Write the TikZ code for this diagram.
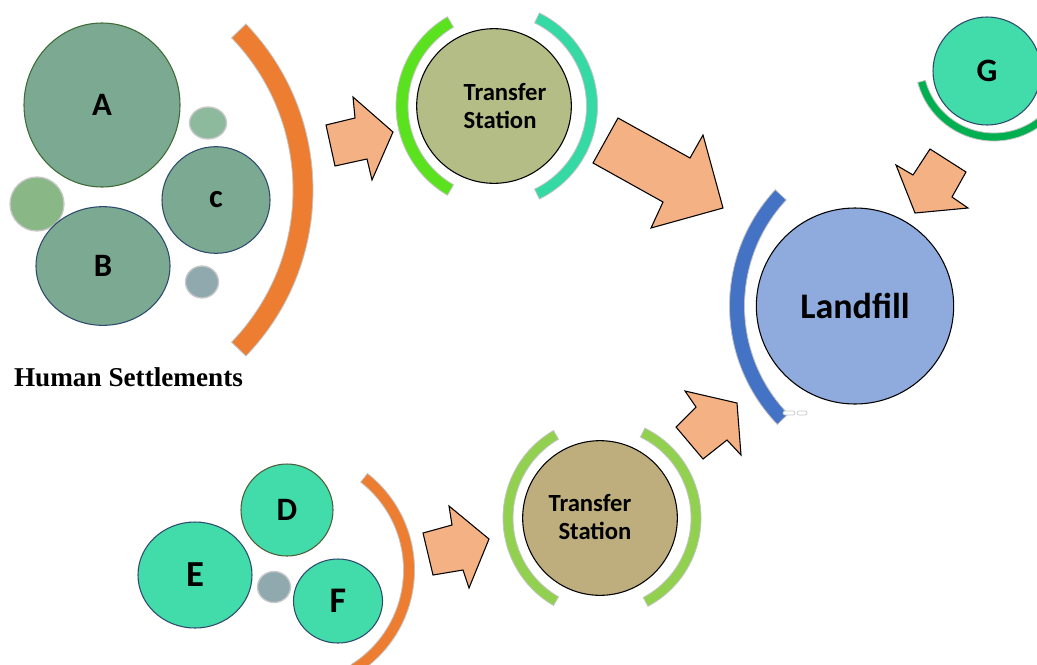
\documentclass[tikz,border=0pt]{standalone}
\usepackage{fontspec}
\setmainfont{Carlito}
\newfontfamily\serifb{Liberation Serif}
\usetikzlibrary{shapes.geometric}
\definecolor{setgreen}{HTML}{7BA992}
\definecolor{edgeA}{HTML}{3F6B35}
\definecolor{edgeB}{HTML}{2E4B6E}
\definecolor{dotone}{HTML}{8DBA9C}
\definecolor{dottwo}{HTML}{89B886}
\definecolor{dotgray}{HTML}{8FA9AF}
\definecolor{dotedge}{HTML}{C8C8C8}
\definecolor{tealfill}{HTML}{42DBAA}
\definecolor{edgeD}{HTML}{4E5E3A}
\definecolor{tsone}{HTML}{B5BD86}
\definecolor{tstwo}{HTML}{BFAE7D}
\definecolor{landfillc}{HTML}{8FAADC}
\definecolor{orangearc}{HTML}{ED7D31}
\definecolor{brightgreen}{HTML}{5BE21E}
\definecolor{tealarc}{HTML}{35D9A3}
\definecolor{greenarc}{HTML}{92D050}
\definecolor{bluearc}{HTML}{4472C4}
\definecolor{garc}{HTML}{00B050}
\definecolor{arrowfill}{HTML}{F4B183}
\definecolor{arcedge}{HTML}{C4C4C4}
\newcommand{\ringarc}[7]{%
  \pgfmathsetmacro{\arcRo}{#3+#4/2}\pgfmathsetmacro{\arcRi}{#3-#4/2}%
  \draw[fill=#7, draw=arcedge, line width=0.6pt]
    ([shift={(#1,#2)}]#5:\arcRo) arc[start angle=#5, end angle=#6, radius=\arcRo]
    -- ([shift={(#1,#2)}]#6:\arcRi) arc[start angle=#6, end angle=#5, radius=\arcRi] -- cycle;}
\tikzset{
  blob/.style={ellipse, inner sep=0pt, line width=0.8pt, font=\bfseries\fontsize{24.5}{25}\selectfont},
  dot/.style={ellipse, inner sep=0pt, draw=dotedge, line width=1pt},
  arrowblk/.style={fill=arrowfill, draw=black, line width=0.8pt, line join=miter},
  tstext/.style={font=\bfseries\fontsize{18.5}{21}\selectfont, inner sep=0pt},
}
\begin{document}
\begin{tikzpicture}[x=0.75pt, y=0.75pt]
\useasboundingbox (0,0) rectangle (1037,-664);
\clip (0,0) rectangle (1037,-664);
% arcs
\ringarc{74}{-190}{229}{20}{-44}{44}{orangearc}
\ringarc{499}{-106}{97}{12}{120}{240}{brightgreen}
\ringarc{494}{-106}{98}{11}{-64}{64}{tealarc}
\ringarc{900}{-306}{163}{15}{137}{224}{bluearc}
\ringarc{994}{-62}{75}{8}{195}{325}{garc}
\ringarc{292}{-570}{117}{11}{-58}{52}{orangearc}
\ringarc{604}{-518}{96}{10}{120}{240}{greenarc}
\ringarc{601}{-518}{95}{10}{-62}{64}{greenarc}
% tiny handles
\draw[draw=dotedge, fill=white, line width=0.5pt, rounded corners=1.5pt] (783,-411) rectangle (795,-415);
\draw[draw=dotedge, fill=white, line width=0.5pt, rounded corners=1.5pt] (797,-411) rectangle (807,-415);
% settlements 1
\node[blob, draw=edgeA, fill=setgreen, minimum width=117pt, minimum height=123pt] (A) at (102,-105) {A};
\node[dot, fill=dotone, minimum width=27.75pt, minimum height=24pt] (s1) at (208,-123) {};
\node[blob, draw=edgeB, fill=setgreen, minimum width=81pt, minimum height=80pt] (C) at (216,-200) {c};
\node[dot, fill=dottwo, minimum width=40.5pt, minimum height=40.5pt] (s2) at (37,-204) {};
\node[blob, draw=edgeB, fill=setgreen, minimum width=100.5pt, minimum height=89pt] (B) at (103,-266) {B};
\node[dot, fill=dotgray, minimum width=24.75pt, minimum height=24pt] (s3) at (202,-282) {};
\node[font=\serifb\bfseries\fontsize{20.4}{21}\selectfont, inner sep=0pt] (hs) at (128.5,-377) {Human Settlements};
% transfer stations
\node[ellipse, draw=black, line width=0.8pt, fill=tsone, minimum width=116pt, minimum height=116pt, inner sep=0pt] (ts1) at (494,-106) {};
\node[tstext, align=left] (ts1t) at (505,-106) {Transfer\\Station};
\node[ellipse, draw=black, line width=0.8pt, fill=tstwo, minimum width=116pt, minimum height=116pt, inner sep=0pt] (ts2) at (600,-518) {};
\node[tstext, align=right] (ts2t) at (590,-517) {Transfer\\Station};
% landfill
\node[ellipse, draw=black, line width=0.8pt, fill=landfillc, minimum width=148pt, minimum height=147pt, inner sep=0pt, font=\bfseries\fontsize{27}{27}\selectfont] (lf) at (855,-306) {Landfill};
% G
\node[blob, draw=edgeB, fill=tealfill, minimum width=81pt, minimum height=81pt] (G) at (987,-71) {G};
% settlements 2
\node[blob, draw=edgeD, fill=tealfill, minimum width=69pt, minimum height=69pt] (D) at (287,-510) {D};
\node[blob, draw=edgeB, fill=tealfill, minimum width=85.5pt, minimum height=79.5pt, font=\bfseries\fontsize{27.5}{28}\selectfont] (E) at (195,-575) {E};
\node[dot, fill=dotgray, minimum width=24.75pt, minimum height=23.25pt] (s4) at (274,-587) {};
\node[blob, draw=edgeB, fill=tealfill, minimum width=66.75pt, minimum height=63pt, font=\bfseries\fontsize{27}{27}\selectfont] (F) at (338,-601) {F};
% block arrows
\draw[arrowblk] (326,-125) -- (355,-118) -- (353,-97) -- (393,-132) -- (372,-180) -- (367,-159) -- (335,-166) -- cycle;
\draw[arrowblk] (618,-118) -- (690,-158) -- (703,-135) -- (723,-208) -- (651,-228) -- (663,-202) -- (593,-163) -- cycle;
\draw[arrowblk] (930,-149) -- (966,-172) -- (952,-197) -- (968,-208) -- (915,-213) -- (896,-165) -- (913,-175) -- cycle;
\draw[arrowblk] (737,-403) -- (741,-455) -- (727,-440) -- (703,-459) -- (676,-427) -- (696,-407) -- (685,-391) -- cycle;
\draw[arrowblk] (423,-533) -- (452,-525) -- (449,-506) -- (489,-539) -- (469,-588) -- (463,-570) -- (433,-575) -- cycle;
\end{tikzpicture}
\end{document}
